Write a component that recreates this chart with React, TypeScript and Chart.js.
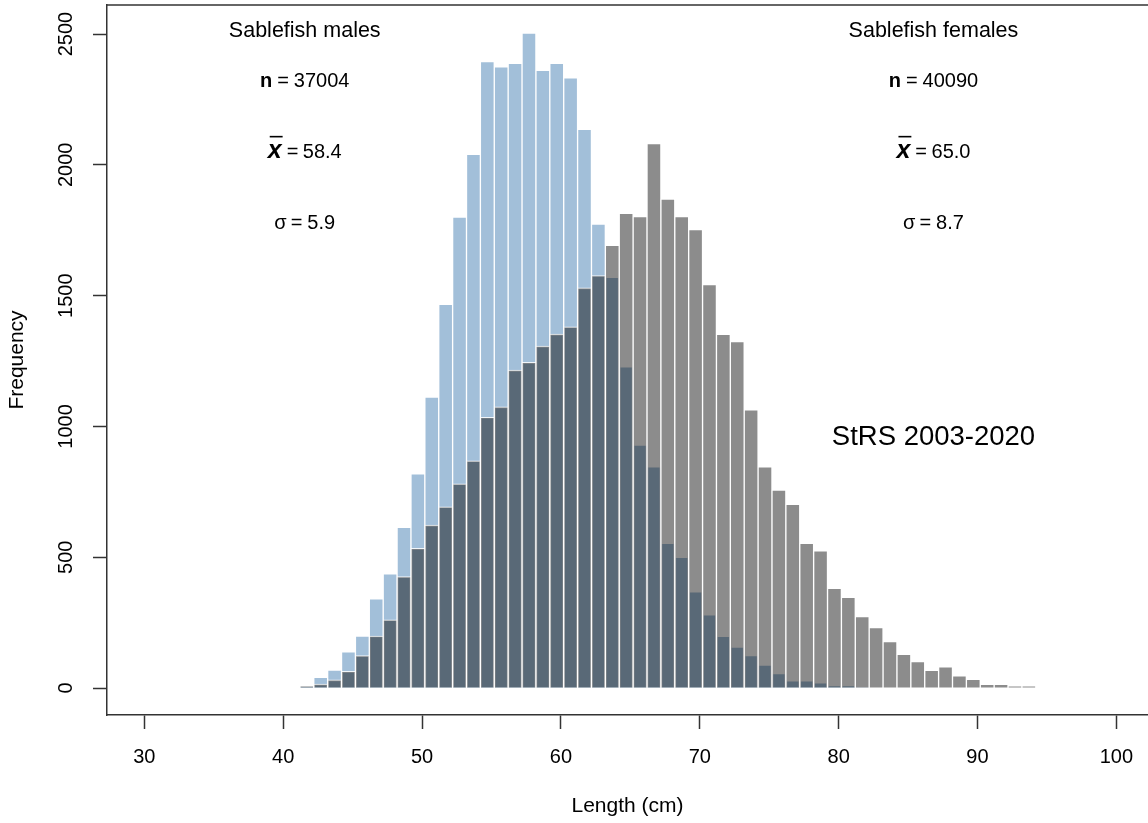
import React, { useEffect, useRef } from 'react';
import { Chart, registerables } from 'chart.js';

Chart.register(...registerables);

// ---- data ----
const lengths = [
  41.7, 42.7, 43.7, 44.7, 45.7, 46.7, 47.7, 48.7, 49.7, 50.7,
  51.7, 52.7, 53.7, 54.7, 55.7, 56.7, 57.7, 58.7, 59.7, 60.7,
  61.7, 62.7, 63.7, 64.7, 65.7, 66.7, 67.7, 68.7, 69.7, 70.7,
  71.7, 72.7, 73.7, 74.7, 75.7, 76.7, 77.7, 78.7, 79.7, 80.7,
  81.7, 82.7, 83.7, 84.7, 85.7, 86.7, 87.7, 88.7, 89.7, 90.7,
  91.7, 92.7, 93.7,
];

const males = [
  8, 41, 69, 138, 199, 341, 437, 614, 819, 1112,
  1467, 1800, 2040, 2395, 2375, 2388, 2504, 2361, 2388, 2333,
  2136, 1774, 1570, 1228, 929, 846, 553, 500, 368, 280,
  198, 157, 124, 88, 55, 28, 28, 20, 9, 9,
  2, 0, 0, 0, 0, 0, 0, 0, 0, 0,
  0, 0, 0,
];

const females = [
  8, 15, 31, 64, 124, 199, 261, 426, 534, 623,
  693, 781, 869, 1035, 1075, 1215, 1245, 1307, 1353, 1381,
  1530, 1577, 1692, 1815, 1802, 2081, 1869, 1802, 1753, 1542,
  1352, 1324, 1064, 846, 757, 702, 553, 525, 381, 347,
  273, 231, 178, 129, 101, 68, 81, 47, 33, 14,
  14, 8, 8,
];

const xTickValues = [30, 40, 50, 60, 70, 80, 90, 100];
const yTickValues = [0, 500, 1000, 1500, 2000, 2500];

const maleStats = ['Sablefish males', '37004', '58.4', '5.9'];
const femaleStats = ['Sablefish females', '40090', '65.0', '8.7'];
const surveyLabel = 'StRS 2003-2020';

// ---- styles / layout ----
const FONT = '"Liberation Sans", Arial, Helvetica, sans-serif';
const AXIS = '#333333';
const MALE_COLOR = '#a2bfd9';
const FEMALE_COLOR = 'rgba(0,0,0,0.45)';
const statColumnX = [41.55, 86.83];
const statRowY = [2519, 2326, 2055, 1783];
const surveyPos = { x: 86.83, y: 967 };

type Seg = { t: string; f: string; gap?: number; overline?: boolean };

function drawSegs(ctx: CanvasRenderingContext2D, segs: Seg[], cx: number, baseline: number) {
  const widths: number[] = [];
  let total = 0;
  segs.forEach((s, i) => {
    ctx.font = s.f;
    const w = ctx.measureText(s.t).width;
    widths.push(w);
    total += w + (i < segs.length - 1 ? s.gap || 0 : 0);
  });
  let x = cx - total / 2;
  segs.forEach((s, i) => {
    ctx.font = s.f;
    ctx.fillText(s.t, x, baseline);
    if (s.overline) {
      ctx.save();
      ctx.strokeStyle = '#000';
      ctx.lineWidth = 1.6;
      ctx.beginPath();
      ctx.moveTo(x + 2, baseline - 21);
      ctx.lineTo(x + widths[i] + 1, baseline - 21);
      ctx.stroke();
      ctx.restore();
    }
    x += widths[i] + (s.gap || 0);
  });
}

const annotationPlugin = {
  id: 'annotations',
  afterDraw(chart: any) {
    const { ctx, chartArea } = chart;
    const xs = chart.scales.x;
    const ys = chart.scales.y;
    ctx.save();
    // top frame line
    ctx.strokeStyle = AXIS;
    ctx.lineWidth = 1.5;
    ctx.beginPath();
    ctx.moveTo(chartArea.left, chartArea.top);
    ctx.lineTo(chartArea.right, chartArea.top);
    ctx.stroke();

    ctx.fillStyle = '#000';
    ctx.textAlign = 'left';
    ctx.textBaseline = 'alphabetic';
    const reg = `20px ${FONT}`;
    [maleStats, femaleStats].forEach((st, k) => {
      const cx = xs.getPixelForValue(statColumnX[k]);
      const yTitle = ys.getPixelForValue(statRowY[0]);
      drawSegs(ctx, [{ t: st[0], f: `21.5px ${FONT}` }], cx, yTitle + 7.8);
      const yN = ys.getPixelForValue(statRowY[1]);
      drawSegs(ctx, [
        { t: 'n', f: `bold 20px ${FONT}`, gap: 5 },
        { t: '=', f: reg, gap: 5 },
        { t: st[1], f: reg },
      ], cx, yN + 7.2);
      const yM = ys.getPixelForValue(statRowY[2]);
      drawSegs(ctx, [
        { t: 'x', f: `italic bold 25px ${FONT}`, gap: 5 , overline: true },
        { t: '=', f: reg, gap: 4.5 },
        { t: st[2], f: reg },
      ], cx, yM + 7.2);
      const yS = ys.getPixelForValue(statRowY[3]);
      drawSegs(ctx, [
        { t: 'σ', f: reg, gap: 4 },
        { t: '=', f: reg, gap: 5 },
        { t: st[3], f: reg },
      ], cx, yS + 7.2);
    });
    drawSegs(ctx, [{ t: surveyLabel, f: `27.5px ${FONT}` }],
      xs.getPixelForValue(surveyPos.x), ys.getPixelForValue(surveyPos.y) + 9.8);
    ctx.restore();
  },
};

export default function App() {
  const ref = useRef<HTMLCanvasElement | null>(null);

  useEffect(() => {
    if (!ref.current) return;
    const chart = new Chart(ref.current, {
      type: 'bar',
      data: {
        datasets: [
          {
            label: 'Females',
            data: lengths.map((l, i) => ({ x: l, y: females[i] })),
            backgroundColor: FEMALE_COLOR,
            borderColor: 'rgba(255,255,255,0.85)',
            borderWidth: 1,
            grouped: false,
            order: 0,
            barPercentage: 1,
            categoryPercentage: 1,
          },
          {
            label: 'Males',
            data: lengths.map((l, i) => ({ x: l, y: males[i] })),
            backgroundColor: MALE_COLOR,
            borderColor: '#ffffff',
            borderWidth: 1,
            grouped: false,
            order: 1,
            barPercentage: 1,
            categoryPercentage: 1,
          },
        ],
      } as any,
      options: {
        animation: false,
        responsive: false,
        events: [],
        layout: { padding: { top: 5, right: 0, bottom: 0, left: 0 } },
        plugins: {
          legend: { display: false },
          tooltip: { enabled: false },
        },
        scales: {
          x: {
            type: 'linear',
            min: 27.31,
            max: 102.28,
            offset: false,
            grid: {
              display: true,
              drawOnChartArea: false,
              drawTicks: true,
              tickLength: 14,
              tickColor: AXIS,
              tickWidth: 1.5,
              color: AXIS,
              offset: false,
            },
            border: { display: true, color: AXIS, width: 1.5 },
            ticks: {
              font: { family: FONT, size: 20 },
              color: '#000',
              padding: 16,
              minRotation: 0,
              maxRotation: 0,
              autoSkip: false,
              callback: (v: any) => String(v),
            },
            afterBuildTicks: (s: any) => {
              s.ticks = xTickValues.map((v) => ({ value: v }));
            },
            afterFit: (s: any) => {
              s.height = 108;
              s.paddingLeft = 0;
              s.paddingRight = 0;
            },
            title: {
              display: true,
              text: 'Length (cm)',
              font: { family: FONT, size: 21 },
              color: '#000',
              padding: { top: 0, bottom: 4 },
            },
          },
          y: {
            type: 'linear',
            min: -103,
            max: 2611,
            grid: {
              display: true,
              drawOnChartArea: false,
              drawTicks: true,
              tickLength: 14,
              tickColor: AXIS,
              tickWidth: 1.5,
              color: AXIS,
            },
            border: { display: true, color: AXIS, width: 1.5 },
            ticks: {
              font: { family: FONT, size: 20 },
              color: '#000',
              padding: 4,
              minRotation: 90,
              maxRotation: 90,
              crossAlign: 'center',
              autoSkip: false,
              callback: (v: any) => String(v),
            },
            afterBuildTicks: (s: any) => {
              s.ticks = yTickValues.map((v) => ({ value: v }));
            },
            afterFit: (s: any) => {
              s.width = 107;
              s.paddingTop = 0;
              s.paddingBottom = 0;
            },
            title: {
              display: true,
              text: 'Frequency',
              font: { family: FONT, size: 21 },
              color: '#000',
              padding: { top: 5, bottom: 0 },
            },
          },
        },
      } as any,
      plugins: [annotationPlugin],
    });
    return () => chart.destroy();
  }, []);

  return (
    <div style={{ position: 'fixed', left: 0, top: 0, width: 1148, height: 823, background: '#fff', overflow: 'hidden' }}>
      <canvas ref={ref} width={1148} height={823} style={{ display: 'block' }} />
    </div>
  );
}
